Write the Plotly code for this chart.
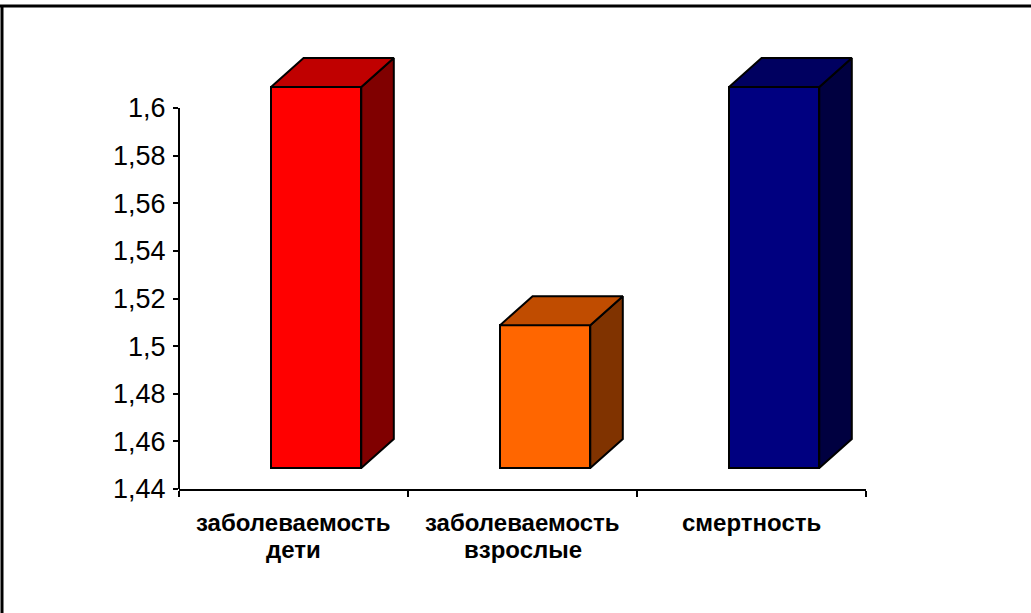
import plotly.graph_objects as go

# ---- data ----
CATEGORY_LINES = [["заболеваемость", "дети"], ["заболеваемость", "взрослые"], ["смертность"]]
VALUES = [1.6, 1.5, 1.6]
BASE = 1.44
Y_TICKS = [1.44, 1.46, 1.48, 1.5, 1.52, 1.54, 1.56, 1.58, 1.6]
Y_TICK_LABELS = ["1,44", "1,46", "1,48", "1,5", "1,52", "1,54", "1,56", "1,58", "1,6"]

# ---- colours: front / top / side of each column ----
FRONT_COLORS = ["#FF0000", "#FF6600", "#000080"]
TOP_COLORS = ["#C00000", "#C04C00", "#000060"]
SIDE_COLORS = ["#800000", "#803300", "#000040"]

# ---- page geometry ----
W, H = 1031, 613
M_L, M_R, M_T, M_B = 179, 165, 40, 124
PLOT_W = W - M_L - M_R
PLOT_H = H - M_T - M_B
PX_PER_UNIT = 381 / 0.16
Y_MAX = BASE + PLOT_H / PX_PER_UNIT

# 3-D column geometry (x in category units, y in value units)
FRONT_OFF = -0.098
FRONT_W = 0.394
DEPTH_X = 0.142
DEPTH_Y = 29 / PX_PER_UNIT
LIFT = 21 / PX_PER_UNIT

FONT = "Liberation Sans Narrow, Arial Narrow, Liberation Sans, Arial, sans-serif"
EDGE = dict(color="black", width=2)

x_pos = list(range(len(VALUES)))

fig = go.Figure()

# front faces
fig.add_trace(go.Bar(
    x=x_pos,
    y=[v - BASE for v in VALUES],
    base=BASE + LIFT,
    width=FRONT_W,
    offset=FRONT_OFF,
    marker=dict(color=FRONT_COLORS, line=EDGE),
    hoverinfo="skip",
    showlegend=False,
))

# side and top faces
for i, v in enumerate(VALUES):
    xl = i + FRONT_OFF
    xr = xl + FRONT_W
    b = BASE + LIFT
    t = v + LIFT
    fig.add_trace(go.Scatter(
        x=[xr, xr + DEPTH_X, xr + DEPTH_X, xr, xr],
        y=[b, b + DEPTH_Y, t + DEPTH_Y, t, b],
        mode="lines", fill="toself", fillcolor=SIDE_COLORS[i],
        line=EDGE, hoverinfo="skip", showlegend=False,
    ))
    fig.add_trace(go.Scatter(
        x=[xl, xl + DEPTH_X, xr + DEPTH_X, xr, xl],
        y=[t, t + DEPTH_Y, t + DEPTH_Y, t, t],
        mode="lines", fill="toself", fillcolor=TOP_COLORS[i],
        line=EDGE, hoverinfo="skip", showlegend=False,
    ))

# category labels, one annotation per line
annotations = []
LABEL_SIZE = 24
LINE1_SHIFT = -19
LINE_STEP = 27
for i, lines in enumerate(CATEGORY_LINES):
    for k, txt in enumerate(lines):
        annotations.append(dict(
            x=i, y=0, xref="x", yref="paper",
            text="<b>%s</b>" % txt, showarrow=False,
            xanchor="center", yanchor="top", borderpad=0,
            yshift=LINE1_SHIFT - k * LINE_STEP,
            font=dict(family=FONT, size=LABEL_SIZE, color="black"),
        ))


def px_x(px):
    return (px - M_L) / PLOT_W


def px_y(py):
    return (H - M_B - py) / PLOT_H


shapes = [
    # value axis line
    dict(type="line", xref="paper", yref="y", x0=0, x1=0,
         y0=BASE, y1=Y_TICKS[-1], line=dict(color="black", width=2)),
    # chart frame (top and left edges)
    dict(type="line", xref="paper", yref="paper",
         x0=px_x(0), x1=px_x(W + 5), y0=px_y(6), y1=px_y(6),
         line=dict(color="black", width=3)),
    dict(type="line", xref="paper", yref="paper",
         x0=px_x(2), x1=px_x(2), y0=px_y(5), y1=px_y(H + 5),
         line=dict(color="black", width=3)),
]

fig.update_layout(
    width=W, height=H,
    margin=dict(l=M_L, r=M_R, t=M_T, b=M_B, pad=0),
    paper_bgcolor="white", plot_bgcolor="white",
    bargap=0,
    showlegend=False,
    annotations=annotations,
    shapes=shapes,
    xaxis=dict(
        range=[-0.5, len(VALUES) - 0.5],
        tickvals=[-0.5, 0.5, 1.5, 2.5], ticktext=["", "", "", ""],
        ticks="outside", ticklen=6, tickwidth=2, tickcolor="black",
        showline=True, linecolor="black", linewidth=2,
        showgrid=False, zeroline=False, fixedrange=True,
    ),
    yaxis=dict(
        range=[BASE, Y_MAX],
        tickvals=Y_TICKS, ticktext=Y_TICK_LABELS,
        ticks="outside", ticklen=5, tickwidth=2, tickcolor="black",
        ticklabelstandoff=2,
        tickfont=dict(family=FONT, size=27, color="black"),
        showline=False, showgrid=False, zeroline=False, fixedrange=True,
    ),
)

fig.write_html("out.html")
